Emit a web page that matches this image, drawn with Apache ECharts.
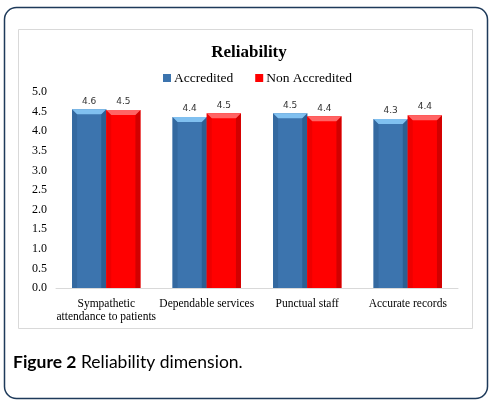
<!DOCTYPE html>
<html>
<head>
<meta charset="utf-8">
<script src="https://cdn.jsdelivr.net/npm/echarts@6/dist/echarts.min.js"></script>
<style>
html,body{margin:0;padding:0;background:#fff;}
#chart{width:498px;height:409px;}
</style>
</head>
<body>
<div id="chart"></div>
<script>
const categories = ['Sympathetic\nattendance to patients', 'Dependable services', 'Punctual staff', 'Accurate records'];
const accredited = [4.56, 4.36, 4.46, 4.31];
const nonAccredited = [4.54, 4.46, 4.38, 4.41];
const yTicks = { min: 0, max: 5, interval: 0.5 };

const palettes = {
  blue: { main: '#3c74ae', top: '#80c0f0', left: '#3469a0', right: '#2d5f92' },
  red:  { main: '#ff0000', top: '#ff6464', left: '#ee0000', right: '#d20000' }
};

function makeRender(pal, side) {
  return function (params, api) {
    const cat = api.value(0);
    const val = api.value(1);
    const top = api.coord([cat, val]);
    const bot = api.coord([cat, 0]);
    const bw = api.size([1, 0])[0] * 0.34;
    const x0 = side < 0 ? top[0] - bw : top[0];
    const x1 = x0 + bw;
    const yT = top[1], yB = bot[1];
    const b = 5;
    return {
      type: 'group',
      children: [
        { type: 'rect', shape: { x: x0, y: yT, width: bw, height: yB - yT }, style: { fill: pal.main } },
        { type: 'polygon', shape: { points: [[x0, yT], [x0 + b, yT + b], [x0 + b, yB], [x0, yB]] }, style: { fill: pal.left } },
        { type: 'polygon', shape: { points: [[x1, yT], [x1, yB], [x1 - b, yB], [x1 - b, yT + b]] }, style: { fill: pal.right } },
        { type: 'polygon', shape: { points: [[x0, yT], [x1, yT], [x1 - b, yT + b], [x0 + b, yT + b]] }, style: { fill: pal.top } },
        { type: 'text', style: { text: val.toFixed(1), x: (x0 + x1) / 2, y: yT - 8, align: 'center', verticalAlign: 'middle',
          font: '9px "DejaVu Sans", sans-serif', fill: '#333333' } }
      ]
    };
  };
}

const chart = echarts.init(document.getElementById('chart'), null, { renderer: 'canvas' });
chart.setOption({
  animation: false,
  backgroundColor: '#ffffff',
  title: {
    text: 'Reliability', left: 'center', top: 39,
    textStyle: { fontFamily: '"Liberation Serif", serif', fontWeight: 'bold', fontSize: 17, color: '#000' }
  },
  legend: {
    top: 66, left: 158, itemWidth: 8, itemHeight: 8, itemGap: 22,
    icon: 'rect',
    textStyle: { fontFamily: '"Liberation Serif", serif', fontSize: 13.5, color: '#000', padding: [0, 0, 0, -2] },
    data: ['Accredited', 'Non Accredited']
  },
  grid: { left: 56, right: 40, top: 92, bottom: 121, containLabel: false },
  xAxis: {
    type: 'category', data: categories,
    axisLine: { lineStyle: { color: '#d9d9d9' } },
    axisTick: { show: false },
    axisLabel: { fontFamily: '"Liberation Serif", serif', fontSize: 11.5, color: '#000', margin: 9, lineHeight: 13, interval: 0 }
  },
  yAxis: {
    type: 'value', min: yTicks.min, max: yTicks.max, interval: yTicks.interval,
    splitLine: { show: false },
    axisLine: { show: false }, axisTick: { show: false },
    axisLabel: { fontFamily: '"Liberation Serif", serif', fontSize: 12, color: '#000', margin: 9,
      formatter: v => v.toFixed(1) }
  },
  series: [
    { name: 'Accredited', type: 'custom', itemStyle: { color: palettes.blue.main },
      renderItem: makeRender(palettes.blue, -1), data: accredited.map((v, i) => [i, v]) },
    { name: 'Non Accredited', type: 'custom', itemStyle: { color: palettes.red.main },
      renderItem: makeRender(palettes.red, 1), data: nonAccredited.map((v, i) => [i, v]) }
  ],
  graphic: [
    { type: 'rect', shape: { x: 4.5, y: 7.5, width: 483, height: 391, r: 12 }, style: { fill: 'none', stroke: '#1e3a5a', lineWidth: 1.5 }, z: -10 },
    { type: 'rect', shape: { x: 18.5, y: 29.5, width: 454, height: 299 }, style: { fill: 'none', stroke: '#d9d9d9', lineWidth: 1 }, z: -10 },
    { type: 'text', x: 13, y: 362, style: { text: '{b|Figure 2} Reliability dimension.', verticalAlign: 'middle',
      font: '17.5px Lato, sans-serif', fill: '#000',
      rich: { b: { fontFamily: 'Lato, sans-serif', fontWeight: 'bold', fontSize: 17.5, fill: '#000' } } } }
  ]
});
</script>
</body>
</html>
